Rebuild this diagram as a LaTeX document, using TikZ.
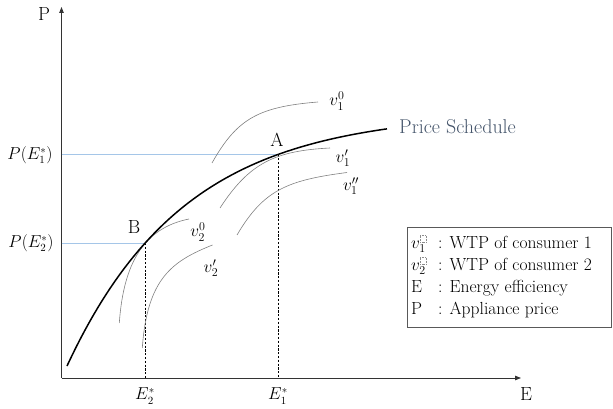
\documentclass[tikz,border=0pt]{standalone}
\usepackage{amsmath}
\usetikzlibrary{arrows.meta}
\definecolor{guideblue}{RGB}{165,198,232}
\definecolor{slate}{RGB}{68,84,106}
\newcommand{\dotbox}{\tikz[baseline=0pt]\draw[black!45,densely dotted,line width=0.45pt] (0,0) rectangle (5.5pt,7pt);}
\tikzset{
  axisline/.style={draw=black!80, line width=0.8pt, -{Triangle[length=6pt,width=4.5pt]}},
  pricecurve/.style={line width=1.5pt},
  wtpcurve/.style={draw=black!50, line width=0.6pt},
  guideline/.style={draw=guideblue, line width=0.6pt},
  dropline/.style={draw=black, line width=0.6pt, dash pattern=on 2.2pt off 1.6pt},
  biglabel/.style={font=\fontsize{19}{22}\selectfont, inner sep=0pt},
  mathlabel/.style={font=\fontsize{16}{19}\selectfont, inner sep=0pt},
  vlabel/.style={font=\fontsize{18}{21}\selectfont, inner sep=0pt},
  legendtext/.style={font=\fontsize{17.5}{20}\selectfont, inner sep=0pt, anchor=west},
}
\begin{document}
\begin{tikzpicture}[x=1pt,y=-1pt]
\useasboundingbox (0,0) rectangle (613,409);
% axes
\coordinate (O) at (61.5,378);
\coordinate (ytip) at (61.5,7);
\coordinate (xtip) at (521,378);
\draw[axisline] (O) -- (ytip);
\draw[axisline] (O) -- (xtip);
\node[biglabel] (Plab) at (44,14) {P};
\node[biglabel] (Elab) at (526,394) {E};
% tangency points
\coordinate (A) at (278,154.5);
\coordinate (B) at (145,243);
% guide lines
\draw[guideline] (A -| O) -- (A);
\draw[guideline] (B -| O) -- (B);
\draw[dropline] (A) -- (A |- O);
\draw[dropline] (B) -- (B |- O);
% WTP curves of consumer 1
\draw[wtpcurve] (212,163) .. controls (236.8,119) and (258,106.8) .. (318,102);
\draw[wtpcurve] (220,208) .. controls (249.25,163) and (275,150.75) .. (330,148);
\draw[wtpcurve] (237,235) .. controls (263.5,190) and (287,180.3) .. (347,172.5);
% WTP curves of consumer 2
\draw[wtpcurve] (119.3,323) .. controls (123.5,263) and (144,228) .. (189,219);
\draw[wtpcurve] (142.3,348) .. controls (147.2,278) and (172.5,261) .. (212.5,245);
% price schedule
\draw[pricecurve] plot[domain=67:387, samples=90, smooth] (\x, {112+254*exp(-(\x-67)/118)});
\node[font=\fontsize{20}{23}\selectfont, text=slate, inner sep=0pt, anchor=west] (ps) at (399,127) {Price Schedule};
% point labels
\node[biglabel] (Alab) at (277,140) {A};
\node[biglabel] (Blab) at (134,227) {B};
% axis value labels
\node[mathlabel] (pe1) at (30,155) {$P(E_1^{*})$};
\node[mathlabel] (pe2) at (31,243) {$P(E_2^{*})$};
\node[mathlabel] (e1) at (278,396) {$E_1^{*}$};
\node[mathlabel] (e2) at (145,396) {$E_2^{*}$};
% curve labels
\node[vlabel] (v10) at (337,101) {$v_1^{0}$};
\node[vlabel] (v1p) at (343,158) {$v_1'$};
\node[vlabel] (v1pp) at (351,186) {$v_1''$};
\node[vlabel] (v20) at (198,232) {$v_2^{0}$};
\node[vlabel] (v2p) at (211,268) {$v_2'$};
% legend
\draw[draw=black!65, line width=0.7pt] (407,227) rectangle (611.5,327);
\node[legendtext] (l1) at (411,244) {\makebox[27pt][l]{$v_1^{\dotbox}$}: WTP of consumer 1};
\node[legendtext] (l2) at (411,266) {\makebox[27pt][l]{$v_2^{\dotbox}$}: WTP of consumer 2};
\node[legendtext] (l3) at (411,288) {\makebox[27pt][l]{E}: Energy efficiency};
\node[legendtext] (l4) at (411,310) {\makebox[27pt][l]{P}: Appliance price};
\end{tikzpicture}
\end{document}
